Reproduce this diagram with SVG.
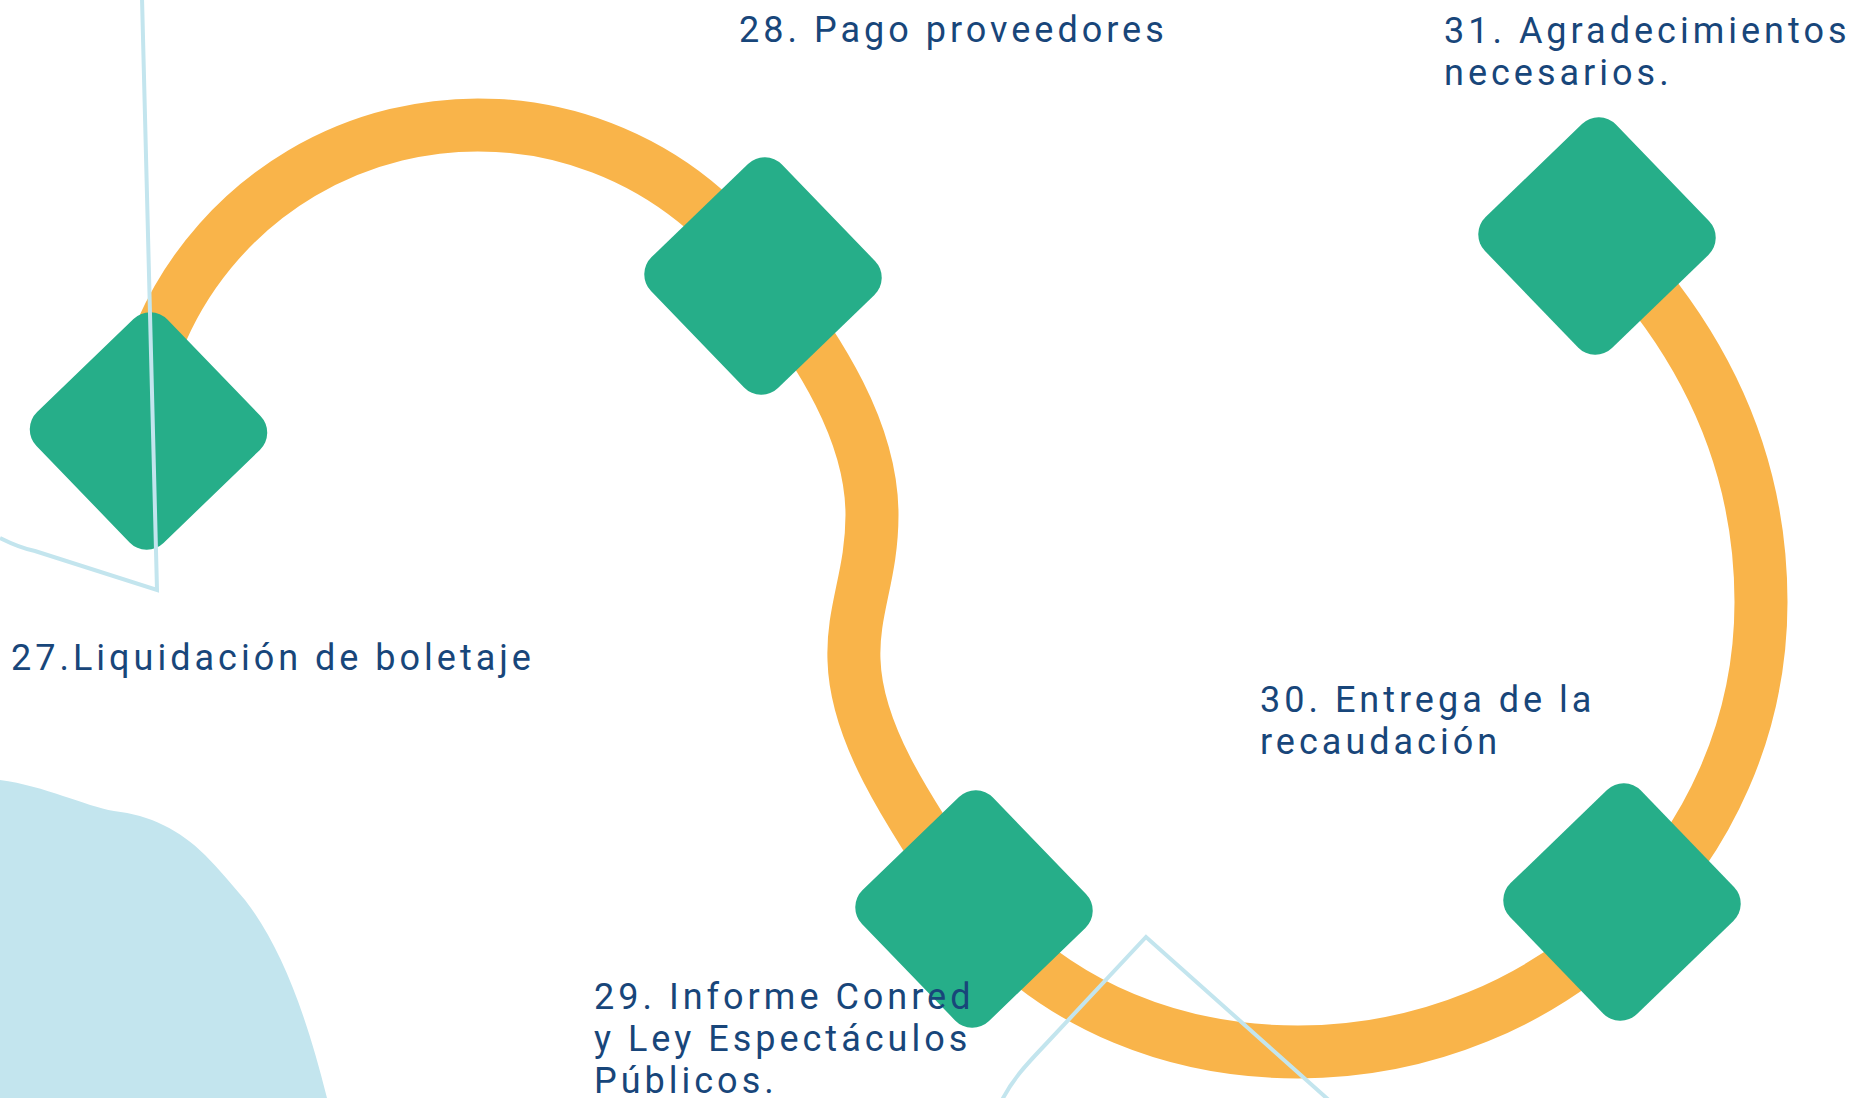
<svg xmlns="http://www.w3.org/2000/svg" width="1852" height="1098" viewBox="0 0 1852 1098">
<style>
.conn{fill:none;stroke:#F9B44A;stroke-width:53;stroke-linecap:butt;stroke-linejoin:round}
.dia{fill:#26AE89}
.deco{fill:none;stroke:#C3E5EE;stroke-width:4;stroke-linejoin:miter}
.lbl{font-family:Roboto,"Liberation Sans",sans-serif;font-size:36px;letter-spacing:4px;fill:#18467A}
</style>
<defs>
<rect id="d" x="-91" y="-91" width="182" height="182" rx="24" ry="24"/>
</defs>
<rect width="1852" height="1098" fill="#FFFFFF"/>
<g id="background">
<path d="M0,780 C45,786 85,806 114,811 C150,815 180,830 205,855 C220,870 232,885 245,900 C280,945 305,1010 327,1098 L0,1098 Z" fill="#C3E5EE"/>
</g>
<g id="connectors">
<path class="conn" d="M134.5,429.3 A346,346 0 0 1 763.6,275.6"/>
<path class="conn" d="M763.6,275.6 C805,335 872,420 872,515 C872,575 852,610 854,660 C856,730 900,800 974,909"/>
<path class="conn" d="M974,909 C1060,1010 1180,1052 1298,1052 C1425.5,1052 1541.25,1002 1625,920.75"/>
<path class="conn" d="M1625,920.75 C1709,839.5 1761,727 1761,602 C1761,490 1725,370 1620,255"/>
</g>
<g id="node27">
<use href="#d" class="dia" transform="translate(148.5,431) rotate(46)"/>
<text class="lbl" x="11" y="670">27.Liquidación de boletaje</text>
</g>
<g id="node28">
<use href="#d" class="dia" transform="translate(763,276) rotate(46)"/>
<text class="lbl" x="739" y="42">28. Pago proveedores</text>
</g>
<g id="node29">
<use href="#d" class="dia" transform="translate(974,909) rotate(46)"/>
<text class="lbl" x="594" y="1009">29. Informe Conred</text>
<text class="lbl" x="594" y="1051">y Ley Espectáculos</text>
<text class="lbl" x="594" y="1093">Públicos.</text>
</g>
<g id="node30">
<use href="#d" class="dia" transform="translate(1622,902) rotate(46)"/>
<text class="lbl" x="1260" y="712">30. Entrega de la</text>
<text class="lbl" x="1260" y="754">recaudación</text>
</g>
<g id="node31">
<use href="#d" class="dia" transform="translate(1597,236) rotate(46)"/>
<text class="lbl" x="1444" y="43">31. Agradecimientos</text>
<text class="lbl" x="1444" y="85">necesarios.</text>
</g>
<g id="decor-lines">
<path class="deco" d="M142,-2 L157,590 L35,551 Q20,548 0,538"/>
<path class="deco" d="M1001,1102 C1012,1080 1025,1066 1044,1046 L1146,937 L1331,1102"/>
</g>
</svg>
